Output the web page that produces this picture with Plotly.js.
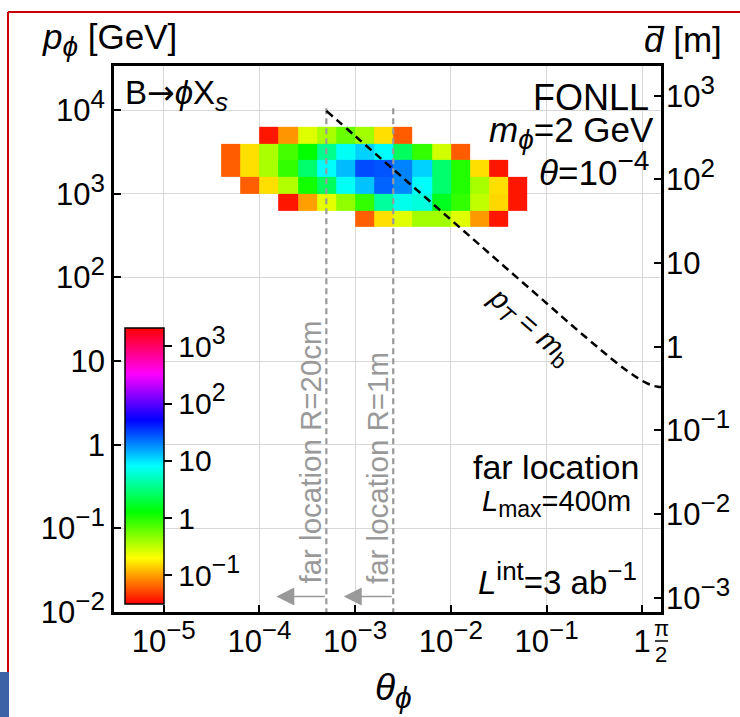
<!DOCTYPE html>
<html>
<head>
<meta charset="utf-8">
<script src="https://cdn.plot.ly/plotly-3.0.1.min.js"></script>
<style>
  html, body { margin: 0; padding: 0; background: #fff; }
  #plot { width: 740px; height: 717px; }
</style>
</head>
<body>
<div id="plot"></div>
<script>
// Bin edges of the event histogram (log10 of polar angle and of momentum in GeV)
const logThetaEdges = [-4.4, -4.2, -4.0, -3.8, -3.6, -3.4, -3.2, -3.0, -2.8, -2.6, -2.4, -2.2, -2.0, -1.8, -1.6, -1.4, -1.2];
const logPEdges = [2.6, 2.8, 3.0, 3.2, 3.4, 3.6, 3.8];

// log10(number of events) per cell, one array per momentum row (highest row first)
const n = null;
const logEventsP38 = [n, n, -1.43, -1.03, -0.59, -0.42, -0.22, -0.40, -0.80, -1.21, n, n, n, n, n, n];
const logEventsP36 = [-1.21, -0.80, -0.43, -0.11, 0.10, 0.55, 0.88, 1.05, 0.90, 0.40, -0.05, -0.55, -1.21, n, n, n];
const logEventsP34 = [-1.20, -0.80, -0.43, -0.05, 0.45, 0.90, 1.12, 1.48, 1.45, 1.30, 1.05, 0.45, 0.00, -0.80, -1.43, n];
const logEventsP32 = [n, -1.20, -0.80, -0.45, 0.05, 0.40, 0.88, 1.10, 1.40, 1.28, 0.90, 0.45, 0.00, -0.42, -0.80, -1.43];
const logEventsP30 = [n, n, n, -1.43, -1.00, -0.62, -0.35, -0.05, 0.60, 0.85, 0.80, 0.20, -0.05, -0.50, -0.82, -1.43];
const logEventsP28 = [n, n, n, n, n, n, n, -1.20, -0.80, -0.60, -0.40, -0.40, -0.60, -1.02, -1.43, n];

// Colour bar range (log10 of events) and its labels
const cbMin = -1.5, cbMax = 3.32;
const cbTickVals = [-1, 0, 1, 2, 3];
const cbTickExp = ['−1', null, '', '2', '3'];

// Axis ticks
const thetaTicks = [1e-5, 1e-4, 1e-3, 1e-2, 1e-1, 1];
const thetaTickExp = ['−5', '−4', '−3', '−2', '−1', null];
const pTicks = [1e-2, 1e-1, 1, 10, 1e2, 1e3, 1e4];
const pTickExp = ['−2', '−1', null, '', '2', '3', '4'];
const dTicks = [1e-3, 1e-2, 1e-1, 1, 10, 1e2, 1e3];
const dTickExp = ['−3', '−2', '−1', null, '', '2', '3'];

// Detector acceptance edges (R = 20 cm and R = 1 m at 400 m)
const accTheta20cm = 5e-4;
const accTheta1m = 2.5e-3;
const accTopP = 1.05e4;
const accArrowTip20cm = 1.5e-4;
const accArrowTip1m = 7.6e-4;
const accArrowP = 0.0153;

// pT = m_b boundary
const ptTheta = [5e-4, 1e-3, 3e-3, 1e-2, 3e-2, 0.1, 0.2, 0.35, 0.5, 0.7, 0.9, 1.1, 1.3, 1.45, 1.5708];
const ptP = [9800, 4900, 1633, 490, 163, 49.1, 24.6, 14.3, 10.2, 7.6, 6.24, 5.49, 5.07, 4.93, 4.9];

const FONT = 'Liberation Sans, Arial, Helvetica, sans-serif';
const GRAY = '#999999';

// plot-area geometry in pixels
const L = 114, T = 66, W = 547, H = 546;
const px = x => (x - L) / W;
const py = y => (T + H - y) / H;

// superscripts / subscripts at a fixed pixel size
const sup = (t, s) => `<sup><span style="font-size:${s}px">${t}</span></sup>`;
const sub = (t, s) => `<sub><span style="font-size:${s}px">${t}</span></sub>`;
// "10^k" tick label; null exponent means "1", empty means "10"
const powLabel = (e, s) => e === null ? '1' : (e === '' ? '10' : '10' + sup(e, s));

const zRows = [logEventsP28, logEventsP30, logEventsP32, logEventsP34, logEventsP36, logEventsP38];

const hueScale = [];
for (let h = 0; h <= 360; h += 10) hueScale.push([h / 360, `hsl(${h % 360},100%,50%)`]);

const TICK_SIZE = 31, TICK_SUP = 26;

const traces = [
  {
    type: 'heatmap',
    x: logThetaEdges.map(v => Math.pow(10, v)),
    y: logPEdges.map(v => Math.pow(10, v)),
    z: zRows,
    zmin: cbMin, zmax: cbMax,
    colorscale: hueScale,
    zsmooth: false,
    hoverinfo: 'skip',
    colorbar: {
      x: px(125), xanchor: 'left', xpad: 0,
      y: py(604), yanchor: 'bottom', ypad: 0,
      thickness: 39,
      lenmode: 'pixels', len: 276,
      outlinewidth: 1.5, outlinecolor: '#000',
      tickmode: 'array', tickvals: cbTickVals,
      ticktext: cbTickExp.map(e => powLabel(e, 25)),
      ticks: 'outside', ticklen: 8, tickwidth: 2, tickcolor: '#000',
      tickfont: { family: FONT, size: 30, color: '#000' }
    }
  },
  {
    type: 'scatter', mode: 'lines', hoverinfo: 'skip', showlegend: false,
    x: [accTheta20cm, accTheta20cm], y: [accTopP, 1e-2],
    line: { color: GRAY, width: 2.2, dash: '6px,4px' }
  },
  {
    type: 'scatter', mode: 'lines', hoverinfo: 'skip', showlegend: false,
    x: [accTheta1m, accTheta1m], y: [accTopP, 1e-2],
    line: { color: GRAY, width: 2.2, dash: '6px,4px' }
  },
  {
    type: 'scatter', mode: 'lines', hoverinfo: 'skip', showlegend: false,
    x: ptTheta, y: ptP, line: { color: '#000', width: 2.5, dash: '8px,5px', shape: 'spline' }
  },
  {
    type: 'scatter', mode: 'markers', hoverinfo: 'skip', showlegend: false,
    x: [1e-3], y: [1], yaxis: 'y2', marker: { opacity: 0 }
  }
];

const tickFont = { family: FONT, size: TICK_SIZE, color: '#000' };

const ann = [];
function txt(text, x, y, xanchor, yanchor, size, extra) {
  ann.push(Object.assign({
    text, x: px(x), y: py(y), xref: 'paper', yref: 'paper',
    xanchor, yanchor, showarrow: false,
    font: { family: FONT, size, color: '#000' }
  }, extra || {}));
}
txt('<i>p</i>' + sub('<i>ϕ</i>', 28) + ' [GeV]', 40, 40, 'left', 'middle', 35);
txt('<i>d</i> [m]', 724, 40, 'right', 'middle', 35);
txt('B<span style="font-family:DejaVu Sans">→</span><i>ϕ</i>X' + sub('<i>s</i>', 26), 123, 95, 'left', 'middle', 33);
txt('FONLL', 651, 97, 'right', 'middle', 36);
txt('<i>m</i>' + sub('<i>ϕ</i>', 28) + '=2 GeV', 656, 132, 'right', 'middle', 35);
txt('<i>θ</i>=10' + sup('−4', 28), 651, 168, 'right', 'middle', 35);
txt('far location', 641, 467, 'right', 'middle', 34);
txt('<i>L</i>' + sub('max', 23) + '=400m', 633, 503, 'right', 'middle', 29);
txt('<i>L</i>' + sup('int', 26) + '=3 ab' + sup('−1', 26), 639, 578, 'right', 'middle', 33);
txt('<i>θ</i>' + sub('<i>ϕ</i>', 30), 393, 690, 'center', 'middle', 37);
txt('<i>p</i>' + sub('<i>T</i>', 22) + ' = <i>m</i>' + sub('b', 22), 530, 327, 'center', 'middle', 29, { textangle: 41 });
txt('far location R=20cm', 310, 586, 'center', 'bottom', 29.5, { textangle: -90, font: { family: FONT, size: 29.5, color: GRAY } });
txt('far location R=1m', 377, 586, 'center', 'bottom', 29.5, { textangle: -90, font: { family: FONT, size: 29.5, color: GRAY } });
// π/2 end label of the angle axis
txt('π', 661, 629, 'center', 'middle', 22);
txt('2', 661, 654, 'center', 'middle', 22);

// acceptance arrows
[[accArrowTip20cm, accTheta20cm], [accArrowTip1m, accTheta1m]].forEach(([tip, tail]) => {
  ann.push({
    x: Math.log10(tip), y: Math.log10(accArrowP), xref: 'x', yref: 'y',
    ax: Math.log10(tail), ay: Math.log10(accArrowP), axref: 'x', ayref: 'y',
    text: '', showarrow: true, arrowhead: 2, arrowsize: 2.4, arrowwidth: 1.5, arrowcolor: GRAY
  });
});

const layout = {
  width: 740, height: 717,
  margin: { l: L, r: 740 - L - W, t: T, b: 717 - T - H, pad: 0 },
  paper_bgcolor: '#fff', plot_bgcolor: '#fff',
  showlegend: false,
  xaxis: {
    type: 'log', range: [-5.52, 0.196],
    tickmode: 'array', tickvals: thetaTicks, ticktext: thetaTickExp.map(e => powLabel(e, TICK_SUP)),
    ticks: 'inside', ticklen: 7, tickwidth: 2, tickcolor: '#000',
    showline: true, linewidth: 2.8, linecolor: '#000', mirror: true,
    showgrid: true, gridcolor: '#d8d8d8', gridwidth: 1, zeroline: false,
    tickfont: tickFont
  },
  yaxis: {
    type: 'log', range: [-2.0, 4.527],
    tickmode: 'array', tickvals: pTicks, ticktext: pTickExp.map(e => powLabel(e, TICK_SUP)),
    ticks: 'inside', ticklen: 7, tickwidth: 2, tickcolor: '#000',
    showline: true, linewidth: 2.8, linecolor: '#000', mirror: true,
    showgrid: true, gridcolor: '#d8d8d8', gridwidth: 1, zeroline: false,
    tickfont: tickFont
  },
  yaxis2: {
    type: 'log', range: [-3.171, 3.356], overlaying: 'y', side: 'right',
    tickmode: 'array', tickvals: dTicks, ticktext: dTickExp.map(e => powLabel(e, TICK_SUP)),
    ticks: 'inside', ticklen: 7, tickwidth: 2, tickcolor: '#000',
    ticklabelstandoff: 4,
    showline: false, showgrid: false, zeroline: false,
    tickfont: tickFont
  },
  annotations: ann,
  shapes: [
    // bar over the distance symbol
    { type: 'line', xref: 'paper', yref: 'paper', x0: px(648), x1: px(662), y0: py(27), y1: py(27), line: { color: '#000', width: 2.2 } },
    // fraction bar of π/2
    { type: 'line', xref: 'paper', yref: 'paper', x0: px(655), x1: px(668), y0: py(641), y1: py(641), line: { color: '#000', width: 1.5 } },
    // page frame
    { type: 'line', xref: 'paper', yref: 'paper', x0: px(8), x1: px(740), y0: py(12), y1: py(12), line: { color: '#cc0000', width: 2 } },
    { type: 'line', xref: 'paper', yref: 'paper', x0: px(8), x1: px(8), y0: py(12), y1: py(672), line: { color: '#cc0000', width: 2 } },
    { type: 'rect', xref: 'paper', yref: 'paper', x0: px(0), x1: px(9), y0: py(672), y1: py(717), line: { width: 0 }, fillcolor: '#3d63a6' }
  ]
};

Plotly.newPlot('plot', traces, layout, { displayModeBar: false, staticPlot: true });
</script>
</body>
</html>
